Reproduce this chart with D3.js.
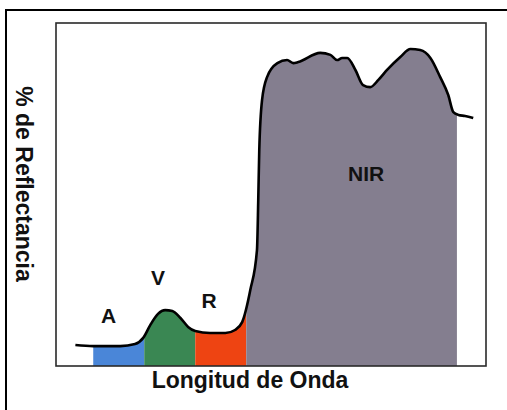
<!DOCTYPE html>
<html>
<head>
<meta charset="utf-8">
<script src="https://cdn.jsdelivr.net/npm/d3@7"></script>
<style>
  body { margin: 0; background: #fff; }
  svg { display: block; }
  text { font-family: "Liberation Sans", Arial, sans-serif; font-weight: bold; fill: #111; }
</style>
</head>
<body>
<script>
// reflectance curve (wavelength nm, % reflectance)
var waveLengths = [365, 400, 453, 482, 498, 512, 527, 541, 555, 571, 586, 600, 629, 659, 678, 692,
                   708, 721, 723.5, 725.5, 731, 741, 761, 780, 792, 802, 845, 865, 878, 888, 898,
                   914, 929, 943, 959, 976, 1002, 1022, 1041, 1061, 1080, 1096, 1106, 1116, 1129, 1145];
var reflectance = [6.1, 5.8, 5.8, 6.4, 8.2, 12, 15.2, 16.3, 16, 14, 11.4, 10.2, 9.6, 9.6, 10.5, 12.8,
                   22.2, 33.8, 48.4, 63, 77.6, 84.3, 88.3, 89.2, 88.3, 88.6, 91.3, 90.7, 89.2, 89.8, 89.8,
                   86.3, 81.9, 81.3, 83.4, 86.3, 90.1, 92.4, 92.1, 89.8, 84.3, 79, 74, 73.2, 72.9, 72.3];

// spectral bands
var bandNames = ["A", "V", "R", "NIR"];
var bandStart = [400, 500, 600, 700];
var bandEnd = [500, 600, 700, 1113];
var bandColors = ["#4a86d8", "#3a8753", "#ee4412", "#847e8f"];
// label anchor (wavelength, % reflectance)
var labelWave = [430, 527, 627, 935];
var labelRefl = [12.5, 23.6, 16.9, 53.9];

const width = 507;
const height = 410;
const plot = {left: 56, top: 23, right: 486, bottom: 366};

var data = waveLengths.map((w, i) => ({w: w, r: reflectance[i]}));

var svg = d3.select('body')
            .append('svg')
            .attr('width', width)
            .attr('height', height);

const xScale = d3.scaleLinear()
                .domain([327, 1170])
                .range([plot.left, plot.right]);

const yScale = d3.scaleLinear()
                .domain([0, 100])
                .range([plot.bottom, plot.top]);

// outer frame
svg.append('rect')
    .attr('x', 6).attr('y', 10)
    .attr('width', width + 10).attr('height', height + 10)
    .attr('fill', 'none')
    .attr('stroke', '#000')
    .attr('stroke-width', 2);

var defs = svg.append('defs');

var area = d3.area()
            .x(d => xScale(d.w))
            .y0(plot.bottom)
            .y1(d => yScale(d.r))
            .curve(d3.curveMonotoneX);

var line = d3.line()
            .x(d => xScale(d.w))
            .y(d => yScale(d.r))
            .curve(d3.curveMonotoneX);

// coloured band fills under the curve
bandNames.forEach((name, i) => {
    defs.append('clipPath')
        .attr('id', 'band' + i)
        .append('rect')
            .attr('x', xScale(bandStart[i]))
            .attr('y', 0)
            .attr('width', xScale(bandEnd[i]) - xScale(bandStart[i]))
            .attr('height', height);

    svg.append('path')
        .datum(data)
        .attr('clip-path', 'url(#band' + i + ')')
        .attr('fill', bandColors[i])
        .attr('d', area);
});

// plot frame
svg.append('rect')
    .attr('x', plot.left).attr('y', plot.top)
    .attr('width', plot.right - plot.left)
    .attr('height', plot.bottom - plot.top)
    .attr('fill', 'none')
    .attr('stroke', '#2a2a2a')
    .attr('stroke-width', 1.6);

// reflectance curve
svg.append('path')
    .datum(data)
    .attr('fill', 'none')
    .attr('stroke', '#000')
    .attr('stroke-width', 2.6)
    .attr('stroke-linejoin', 'round')
    .attr('d', line);

// band labels
svg.selectAll('.band-label')
    .data(bandNames)
    .enter()
    .append('text')
        .attr('class', 'band-label')
        .attr('x', (d, i) => xScale(labelWave[i]))
        .attr('y', (d, i) => yScale(labelRefl[i]))
        .attr('text-anchor', 'middle')
        .attr('font-size', 21)
        .text(d => d);

// axis labels
svg.append('text')
    .attr('x', 250)
    .attr('y', 388)
    .attr('text-anchor', 'middle')
    .attr('font-size', 23)
    .text('Longitud de Onda');

svg.append('text')
    .attr('transform', 'translate(16, 184) rotate(90)')
    .attr('text-anchor', 'middle')
    .attr('font-size', 23)
    .text('% de Reflectancia');
</script>
</body>
</html>
